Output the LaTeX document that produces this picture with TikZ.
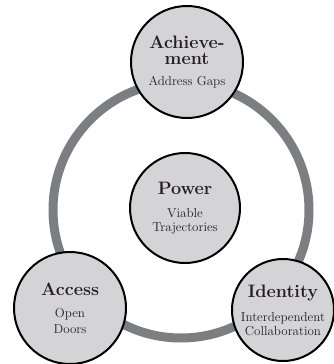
\documentclass[tikz,border=0pt]{standalone}
\usepackage{fontspec}
\usepackage{tikz}
\usetikzlibrary{positioning}

\definecolor{hubfill}{RGB}{212,212,214}
\definecolor{ringgray}{RGB}{125,126,130}
\definecolor{inkdark}{RGB}{35,31,32}

\newcommand{\hdtxt}[1]{{\fontsize{18}{15}\selectfont\bfseries #1}}

\tikzset{
  ringline/.style={draw=ringgray, line width=9pt},
  hub/.style={circle, draw=black, line width=2pt, fill=hubfill,
    minimum size=110pt, inner sep=0pt, align=center, text=inkdark,
    font=\fontsize{13}{14}\selectfont},
}

\begin{document}
\begin{tikzpicture}[x=1pt,y=-1pt]
    \useasboundingbox (0,0) rectangle (334,364);
    \coordinate (ringc) at (181,210);
    \draw [ringline] (ringc) circle [radius=128pt];% the big gray ring
    % the four circles
    \node [hub, minimum size=112pt] (achieve) at (187,62) {\hdtxt{Achieve-}\\[2.5pt]\hdtxt{ment}\\[7pt]Address Gaps};
    \node [hub] (power) at (185,208) {\hdtxt{Power}\\[9pt]Viable\\Trajectories};
    \node [hub, minimum size=112pt] (access) at (70,308) {\hdtxt{Access}\\[8pt]Open\\[2pt]Doors};
    \node [hub, minimum size=102pt] (identity) at (283,310) {\hdtxt{Identity}\\[10pt]Interdependent\\Collaboration};
  \end{tikzpicture}
\end{document}
